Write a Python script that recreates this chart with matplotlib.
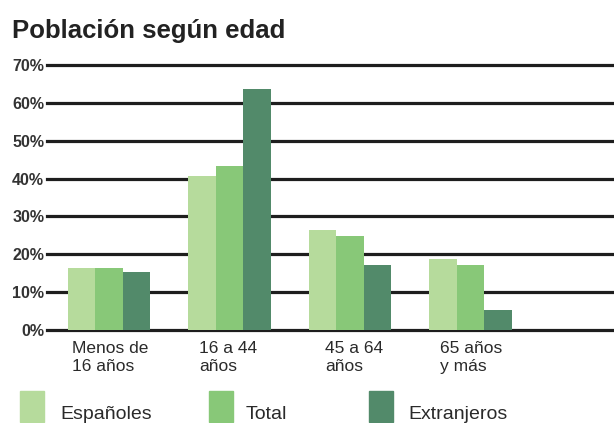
import matplotlib.pyplot as plt
import numpy as np

# datos (%)
grupos = ["Menos de\n16 años", "16 a 44\naños", "45 a 64\naños", "65 años\ny más"]
espanoles = [16.4, 40.6, 26.4, 18.7]
total = [16.4, 43.3, 24.8, 17.2]
extranjeros = [15.3, 63.6, 17.2, 5.3]
series = ["Españoles", "Total", "Extranjeros"]
colores = ["#b6db9c", "#88c878", "#528a6a"]
yticks = [0, 10, 20, 30, 40, 50, 60, 70]

plt.rcParams["font.family"] = ["Liberation Sans", "DejaVu Sans"]

fig = plt.figure(figsize=(6.14, 4.23), dpi=100)
ax = fig.add_axes([47 / 614, 93 / 423, 1 - 47 / 614, 265 / 423])

x = np.arange(len(grupos))
w = 0.228
for i, (vals, c) in enumerate(zip([espanoles, total, extranjeros], colores)):
    ax.bar(x + (i - 1) * w + 0.01, vals, w, color=c, zorder=3, linewidth=0)

# líneas horizontales
for t in yticks:
    ax.axhline(t, color="#1e1e1e", lw=2.3, zorder=2, clip_on=False)

ax.set_xlim(-0.506, 4.2)
ax.set_ylim(0, 70)
ax.set_yticks(yticks)
ax.set_yticklabels([f"{t}%" for t in yticks], fontsize=11.5, fontweight="bold",
                   color="#333333")
ax.tick_params(axis="y", length=0, pad=2)
ax.set_xticks([])
for s in ax.spines.values():
    s.set_visible(False)

# etiquetas de categorías
desplaz = [-0.30, -0.245, -0.20, -0.245]
for i, g in enumerate(grupos):
    ax.text(i + desplaz[i], -3.0, g, ha="left", va="top", fontsize=12.5,
            color="#2a2a2a", linespacing=1.2)

fig.text(12 / 614, 1 - 38 / 423, "Población según edad", fontsize=18.5,
         fontweight="bold", color="#222222", ha="left", va="baseline")

# leyenda
pos = [(20, 60), (209, 246), (369, 408)]
for (xs, xt), nombre, c in zip(pos, series, colores):
    fig.patches.append(plt.Rectangle((xs / 614, 1 - 422 / 423), 24 / 614, 31 / 423,
                                     transform=fig.transFigure, color=c,
                                     figure=fig))
    fig.text(xt / 614, 1 - 419 / 423, nombre, fontsize=14, color="#2a2a2a",
             ha="left", va="baseline")

fig.savefig("out.png", dpi=100)
